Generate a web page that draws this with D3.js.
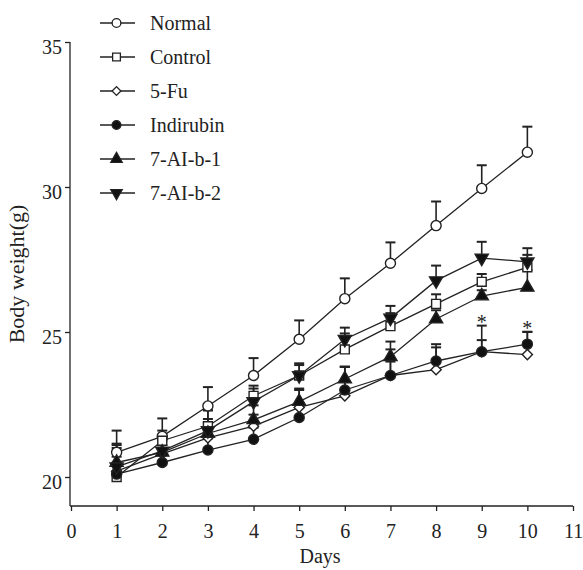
<!DOCTYPE html>
<html>
<head>
<meta charset="utf-8">
<script src="https://cdn.jsdelivr.net/npm/d3@7"></script>
<style>
  html, body { margin: 0; padding: 0; background: #fff; }
  svg { display: block; }
  text { font-family: "Liberation Serif", "Times New Roman", serif; fill: #222; }
</style>
</head>
<body>
<svg id="chart" width="583" height="570"></svg>
<script>
// ---- data ----
const days = [1, 2, 3, 4, 5, 6, 7, 8, 9, 10];
const xTicks = [0, 1, 2, 3, 4, 5, 6, 7, 8, 9, 10, 11];
const yTicks = [20, 25, 30, 35];
const seriesNames = ["Normal", "Control", "5-Fu", "Indirubin", "7-AI-b-1", "7-AI-b-2"];

const normal    = [20.85, 21.4, 22.45, 23.5, 24.75, 26.15, 27.37, 28.67, 29.95, 31.2];
const control   = [20.0, 21.25, 21.75, 22.8, 23.5, 24.4, 25.2, 25.97, 26.73, 27.23];
const fiveFu    = [20.2, 20.8, 21.35, 21.75, 22.4, 22.8, 23.5, 23.7, 24.32, 24.22];
const indirubin = [20.1, 20.5, 20.93, 21.3, 22.05, 23.0, 23.5, 24.0, 24.32, 24.58];
const ai1       = [20.5, 20.85, 21.5, 21.97, 22.6, 23.38, 24.15, 25.45, 26.24, 26.54];
const ai2       = [20.35, 20.9, 21.6, 22.6, 23.5, 24.75, 25.48, 26.77, 27.55, 27.42];

const normalSE    = [0.75, 0.62, 0.65, 0.6, 0.65, 0.7, 0.72, 0.83, 0.8, 0.88];
const controlSE   = [1.1, 0.35, 0.55, 0.35, 0.42, 0.55, 0.45, 0.33, 0.27, 0.43];
const fiveFuSE    = [0.5, 0.3, 0.5, 0.4, 0.6, 1.0, 0.9, 0.77, 0.4, 0.78];
const indirubinSE = [0.4, 0.3, 0.4, 0.4, 0.5, 0.8, 0.48, 0.58, 0.9, 0.43];
const ai1SE       = [0.5, 0.4, 0.5, 0.5, 0.45, 0.42, 0.52, 0.3, 0.2, 0.6];
const ai2SE       = [0.8, 0.4, 0.7, 0.45, 0.36, 0.4, 0.42, 0.52, 0.56, 0.47];

const starDays = [9, 10];

// ---- layout ----
const svg = d3.select("#chart");
const x = d3.scaleLinear().domain([0, 11]).range([71, 573]);
const y = d3.scaleLinear().domain([19, 35]).range([506, 42]);

const series = [
  { name: seriesNames[0], values: normal,    se: normalSE,    shape: "circle",  fill: "#fff" },
  { name: seriesNames[1], values: control,   se: controlSE,   shape: "square",  fill: "#fff" },
  { name: seriesNames[2], values: fiveFu,    se: fiveFuSE,    shape: "diamond", fill: "#fff" },
  { name: seriesNames[3], values: indirubin, se: indirubinSE, shape: "circle",  fill: "#111" },
  { name: seriesNames[4], values: ai1,       se: ai1SE,       shape: "triUp",   fill: "#111" },
  { name: seriesNames[5], values: ai2,       se: ai2SE,       shape: "triDown", fill: "#111" }
];

function symbolPath(shape, scale) {
  const k = scale || 1;
  switch (shape) {
    case "circle":  return d3.symbol(d3.symbolCircle, 80 * k)();
    case "square":  return d3.symbol(d3.symbolSquare, 80 * k)();
    case "diamond": return d3.symbol(d3.symbolSquare, 52 * k)();
    case "triUp":   return d3.symbol(d3.symbolTriangle, 75 * k)();
    case "triDown": return d3.symbol(d3.symbolTriangle, 75 * k)();
  }
}
function symbolRotate(shape) {
  if (shape === "diamond") return 45;
  if (shape === "triDown") return 180;
  return 0;
}

// ---- axes ----
const yAxis = d3.axisLeft(y).tickValues(yTicks).tickSize(5).tickPadding(3).tickSizeOuter(0);
const yG = svg.append("g").attr("transform", "translate(70,0)").call(yAxis);
yG.select(".domain").attr("d", "M0," + y(35) + "V" + y(19)).attr("stroke", "#222").attr("stroke-width", 1.3);
yG.selectAll(".tick line").attr("stroke", "#222").attr("stroke-width", 1.3);
yG.selectAll(".tick text").attr("font-size", 20).attr("dy", "0.55em")
  .style("font-family", "'Liberation Serif', serif").attr("fill", "#222");

const xAxis = d3.axisBottom(x).tickValues(xTicks).tickSize(5).tickPadding(13).tickSizeOuter(0);
const xG = svg.append("g").attr("transform", "translate(0,506)").call(xAxis);
xG.select(".domain").attr("d", "M70,0H" + x(11)).attr("stroke", "#222").attr("stroke-width", 1.3);
xG.selectAll(".tick line").attr("stroke", "#222").attr("stroke-width", 1.3);
xG.selectAll(".tick text").attr("font-size", 20)
  .style("font-family", "'Liberation Serif', serif").attr("fill", "#222");

svg.append("text").attr("x", 320).attr("y", 563).attr("text-anchor", "middle")
  .attr("font-size", 20).text("Days");
svg.append("text").attr("transform", "translate(24,274) rotate(-90)")
  .attr("text-anchor", "middle").attr("font-size", 22).text("Body weight(g)");

// ---- lines ----
const line = d3.line().x((d, i) => x(days[i])).y(d => y(d));
const plot = svg.append("g");
plot.selectAll("path.series").data(series).join("path")
  .attr("class", "series")
  .attr("d", s => line(s.values))
  .attr("fill", "none").attr("stroke", "#222").attr("stroke-width", 1.3);

// ---- error bars ----
series.forEach(s => {
  const g = plot.append("g");
  s.values.forEach((v, i) => {
    if (!s.se[i]) return;
    const cx = x(days[i]), y0 = y(v), y1 = y(v + s.se[i]);
    g.append("line").attr("x1", cx).attr("x2", cx).attr("y1", y0).attr("y2", y1)
      .attr("stroke", "#222").attr("stroke-width", 1.6);
    g.append("line").attr("x1", cx - 5).attr("x2", cx + 5).attr("y1", y1).attr("y2", y1)
      .attr("stroke", "#222").attr("stroke-width", 2);
  });
});

// ---- markers ----
series.forEach(s => {
  plot.append("g").selectAll("path").data(s.values).join("path")
    .attr("d", symbolPath(s.shape))
    .attr("transform", (d, i) => "translate(" + x(days[i]) + "," + y(d) + ") rotate(" + symbolRotate(s.shape) + ")")
    .attr("fill", s.fill).attr("stroke", "#222").attr("stroke-width", 1.4);
});

// ---- significance stars ----
starDays.forEach(dd => {
  const i = days.indexOf(dd);
  const top = indirubin[i] + indirubinSE[i];
  svg.append("text").attr("x", x(dd)).attr("y", y(top) + 3)
    .attr("text-anchor", "middle").attr("font-size", 20).attr("fill", "#555").text("*");
});

// ---- legend ----
const legend = svg.append("g");
series.forEach((s, i) => {
  const ly = 23 + i * 34;
  legend.append("line").attr("x1", 100).attr("x2", 135).attr("y1", ly).attr("y2", ly)
    .attr("stroke", "#222").attr("stroke-width", 1.3);
  legend.append("path").attr("d", symbolPath(s.shape, 0.75))
    .attr("transform", "translate(116.5," + ly + ") rotate(" + symbolRotate(s.shape) + ")")
    .attr("fill", s.fill).attr("stroke", "#222").attr("stroke-width", 1.3);
  legend.append("text").attr("x", 150).attr("y", ly + 7).attr("font-size", 20).text(s.name);
});
</script>
</body>
</html>
